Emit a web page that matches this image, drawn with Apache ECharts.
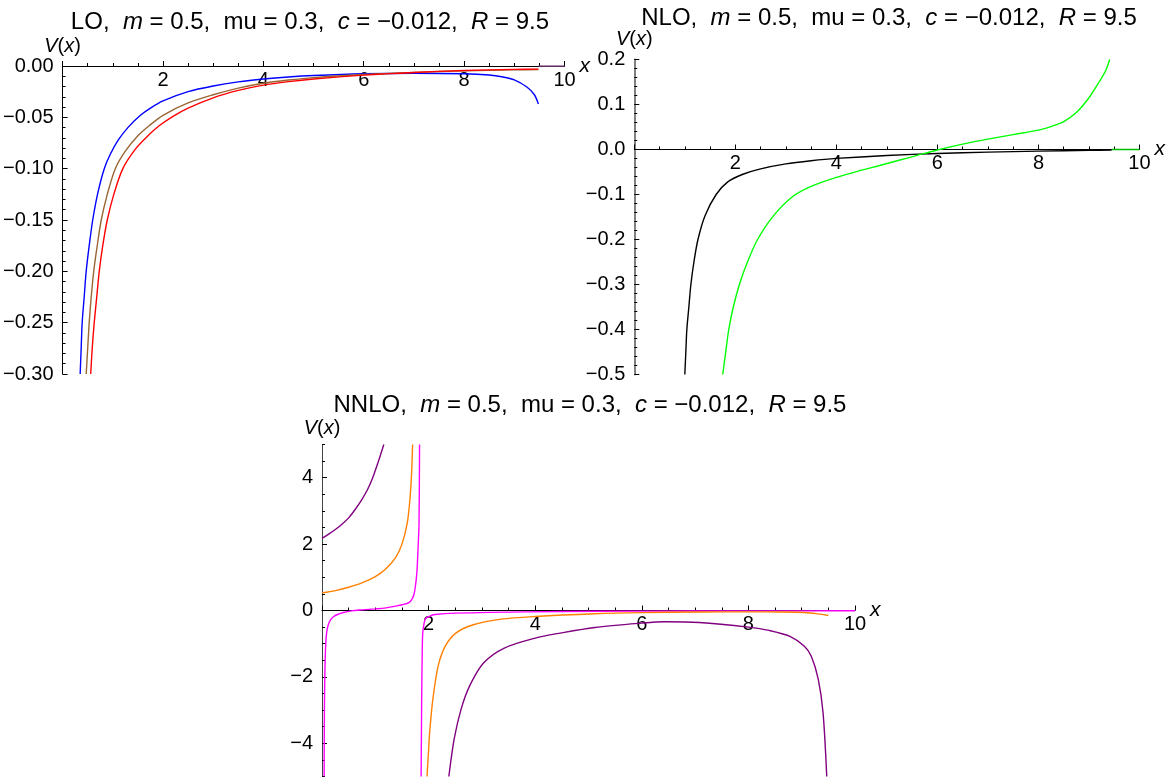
<!DOCTYPE html>
<html>
<head>
<meta charset="utf-8">
<script src="https://cdn.jsdelivr.net/npm/echarts@6/dist/echarts.min.js"></script>
<style>
html,body{margin:0;padding:0;background:#fff;}
#c{width:1166px;height:781px;}
</style>
</head>
<body>
<div id="c"></div>
<script>
// ---------- data ----------
const titles = [
  'LO,  {i|m} = 0.5,  mu = 0.3,  {i|c} = \u22120.012,  {i|R} = 9.5',
  'NLO,  {i|m} = 0.5,  mu = 0.3,  {i|c} = \u22120.012,  {i|R} = 9.5',
  'NNLO,  {i|m} = 0.5,  mu = 0.3,  {i|c} = \u22120.012,  {i|R} = 9.5'
];
const xTicks = [2, 4, 6, 8, 10];
const nnloYTicks = [-4, -2, 0, 2, 4];

// LO
const loBlue = [[0.35,-0.30],[0.37,-0.275],[0.39,-0.25],[0.43,-0.225],[0.47,-0.20],[0.53,-0.175],[0.6,-0.15],[0.7,-0.124],[0.83,-0.10],[0.95,-0.086],[1.11,-0.072],[1.3,-0.060],[1.55,-0.048],[1.75,-0.041],[2.0,-0.034],[2.5,-0.025],[3.0,-0.0195],[3.5,-0.0155],[4.0,-0.0127],[4.5,-0.0107],[5.0,-0.0093],[6.0,-0.0076],[7.0,-0.007],[8.0,-0.0075],[8.5,-0.0088],[8.75,-0.0105],[9.0,-0.0135],[9.25,-0.0205],[9.4,-0.028],[9.48,-0.037]];
const loBrown = [[0.47,-0.30],[0.5,-0.275],[0.53,-0.25],[0.57,-0.225],[0.62,-0.20],[0.69,-0.175],[0.77,-0.15],[0.89,-0.125],[1.05,-0.10],[1.25,-0.083],[1.5,-0.068],[1.73,-0.058],[2.0,-0.048],[2.5,-0.036],[3.0,-0.028],[3.5,-0.0215],[4.0,-0.0168],[4.5,-0.0137],[5.0,-0.0113],[6.0,-0.0083],[7.0,-0.0062],[8.0,-0.0047],[9.0,-0.0038],[9.48,-0.0034]];
const loRed = [[0.56,-0.30],[0.59,-0.275],[0.63,-0.25],[0.68,-0.225],[0.73,-0.20],[0.8,-0.175],[0.89,-0.15],[1.02,-0.125],[1.2,-0.10],[1.45,-0.081],[1.7,-0.068],[1.93,-0.058],[2.2,-0.049],[2.5,-0.041],[3.0,-0.031],[3.5,-0.0238],[4.0,-0.0186],[4.5,-0.0152],[5.0,-0.0126],[6.0,-0.0089],[7.0,-0.0063],[8.0,-0.0044],[9.0,-0.0033],[9.48,-0.003]];
const loTail = [[9.48,0],[10,0]];

// NLO
const nloBlack = [[1.0,-0.5],[1.02,-0.45],[1.04,-0.4],[1.08,-0.35],[1.12,-0.3],[1.18,-0.25],[1.26,-0.2],[1.4,-0.147],[1.62,-0.1],[1.85,-0.072],[2.15,-0.055],[2.5,-0.043],[3.0,-0.032],[3.5,-0.025],[4.0,-0.0198],[5.0,-0.0132],[6.0,-0.0088],[7.0,-0.0058],[8.0,-0.0036],[9.0,-0.002],[9.45,-0.0012]];
const nloGreen = [[1.75,-0.5],[1.81,-0.45],[1.87,-0.4],[1.96,-0.35],[2.08,-0.3],[2.24,-0.25],[2.44,-0.2],[2.75,-0.148],[3.13,-0.105],[3.5,-0.082],[4.0,-0.062],[4.5,-0.046],[4.84,-0.036],[5.24,-0.024],[5.6,-0.013],[6.0,-0.001],[6.5,0.012],[7.0,0.023],[7.5,0.033],[8.0,0.043],[8.25,0.051],[8.5,0.062],[8.75,0.082],[9.0,0.115],[9.2,0.15],[9.33,0.175],[9.41,0.2]];
const nloTail = [[9.45,0],[10,0]];

// NNLO
const nnloPurpleUp = [[0,2.17],[0.125,2.3],[0.25,2.44],[0.375,2.6],[0.5,2.79],[0.625,3.05],[0.75,3.35],[0.85,3.63],[0.94,3.95],[1.06,4.5],[1.16,5.0]];
const nnloOrangeUp = [[0,0.53],[0.25,0.6],[0.5,0.7],[0.75,0.83],[1.0,1.02],[1.19,1.24],[1.38,1.59],[1.5,2.0],[1.6,2.64],[1.65,3.35],[1.68,4.1],[1.70,5.0]];
const nnloMagentaA = [[0.04,-5],[0.045,-3],[0.055,-1.8],[0.07,-1.0],[0.09,-0.63],[0.12,-0.42],[0.16,-0.28],[0.22,-0.18],[0.29,-0.12],[0.4,-0.06],[0.55,-0.01],[0.75,0.02],[1.0,0.05],[1.2,0.08],[1.38,0.13],[1.55,0.19],[1.63,0.24],[1.68,0.32],[1.72,0.45],[1.75,0.7],[1.78,1.14],[1.8,1.8],[1.82,2.6],[1.83,5.0]];
const nnloMagentaB = [[1.86,-5],[1.87,-2.67],[1.88,-1.3],[1.89,-0.68],[1.92,-0.35],[1.95,-0.23],[2.05,-0.15],[2.12,-0.12],[2.5,-0.08],[3.16,-0.055],[4.5,-0.03],[6,-0.02],[8,-0.012],[10,-0.008]];
const nnloOrangeLow = [[1.97,-5],[2.0,-4.2],[2.02,-3.67],[2.08,-2.67],[2.18,-1.67],[2.31,-1.08],[2.51,-0.68],[2.84,-0.43],[3.36,-0.26],[4.0,-0.18],[5.12,-0.1],[6.0,-0.065],[7.08,-0.045],[8.0,-0.04],[8.6,-0.045],[9.05,-0.06],[9.3,-0.1],[9.5,-0.15]];
const nnloPurpleLow = [[2.38,-5],[2.48,-3.87],[2.61,-2.97],[2.77,-2.27],[3.03,-1.58],[3.42,-1.13],[4.0,-0.83],[4.47,-0.68],[5.12,-0.51],[6.0,-0.38],[6.43,-0.34],[7.08,-0.36],[8.0,-0.5],[8.39,-0.6],[8.78,-0.78],[9.05,-1.08],[9.18,-1.38],[9.31,-2.07],[9.4,-3.07],[9.47,-5]];

// ---------- chart ----------
const FONT = 'Liberation Sans, Arial, sans-serif';
const TICKF = 20;
const minus = v => (v < 0 ? '\u2212' : '');

const grids = [
  {left: 62.5, top: 66, width: 502, height: 308},
  {left: 634.3, top: 59.5, width: 508, height: 315},
  {left: 322, top: 444.5, width: 533, height: 332}
];
const yRanges = [[-0.30, 0], [-0.5, 0.2], [-5, 5]];

function titleOf(text, cx, top) {
  return {
    text: text, left: cx, top: top, textAlign: 'center', padding: 0,
    textStyle: {fontFamily: FONT, fontSize: 24, fontWeight: 'normal', color: '#000',
      rich: {i: {fontFamily: FONT, fontSize: 24, fontStyle: 'italic', color: '#000'}}}
  };
}
// x axis drawn at the y = 0 line (Mathematica "Axes" style)
function xAxisOf(g) {
  const r = yRanges[g];
  const atTop = r[1] === 0;
  const off = atTop ? 0 : -grids[g].height * (0 - r[0]) / (r[1] - r[0]);
  return {
    type: 'value', gridIndex: g, min: 0, max: 10, interval: 2,
    position: atTop ? 'top' : 'bottom', offset: off,
    name: 'x', nameLocation: 'end', nameGap: 7,
    nameTextStyle: {fontFamily: FONT, fontSize: 21, fontStyle: 'italic', color: '#000',
      verticalAlign: 'middle', padding: [6, 0, 0, 0]},
    axisLine: {show: true, onZero: false, lineStyle: {color: '#000', width: 1}},
    axisTick: {show: true, inside: !atTop, length: 5, lineStyle: {color: '#000'}},
    minorTick: {show: true, splitNumber: 4, length: 3, lineStyle: {color: '#000'}},
    splitLine: {show: false}, minorSplitLine: {show: false},
    axisLabel: {fontFamily: FONT, fontSize: TICKF, color: '#000', margin: 4, inside: atTop,
      formatter: v => (xTicks.indexOf(v) >= 0 ? String(v) : '')}
  };
}
function yNameStyle() {
  return {fontFamily: FONT, fontSize: 20, color: '#000',
    rich: {i: {fontFamily: FONT, fontSize: 20, fontStyle: 'italic', color: '#000'}}};
}
function line(data, color, xi, yi) {
  return {type: 'line', data: data, xAxisIndex: xi, yAxisIndex: yi, symbol: 'none', showSymbol: false,
    smooth: 0.3, clip: true, silent: true,
    lineStyle: {color: color, width: 1.4}};
}

const chart = echarts.init(document.getElementById('c'), null, {renderer: 'canvas'});
chart.setOption({
  animation: false,
  backgroundColor: '#fff',
  title: [titleOf(titles[0], 310, 10), titleOf(titles[1], 889, 6), titleOf(titles[2], 590, 393)],
  grid: grids.map(g => Object.assign({containLabel: false}, g)),
  xAxis: [xAxisOf(0), xAxisOf(1), xAxisOf(2)],
  yAxis: [
    { // LO
      type: 'value', gridIndex: 0, min: yRanges[0][0], max: yRanges[0][1], interval: 0.05, position: 'left',
      name: '{i|V}({i|x})', nameLocation: 'end', nameGap: 3, nameTextStyle: yNameStyle(),
      axisLine: {show: true, onZero: false, lineStyle: {color: '#000', width: 1}},
      axisTick: {show: true, inside: true, length: 5, lineStyle: {color: '#000'}},
      minorTick: {show: true, splitNumber: 5, length: 3, lineStyle: {color: '#000'}},
      splitLine: {show: false}, minorSplitLine: {show: false},
      axisLabel: {fontFamily: FONT, fontSize: TICKF, color: '#000', margin: 9,
        formatter: v => minus(v) + Math.abs(v).toFixed(2)}
    },
    { // NLO
      type: 'value', gridIndex: 1, min: yRanges[1][0], max: yRanges[1][1], interval: 0.1, position: 'left',
      name: '{i|V}({i|x})', nameLocation: 'end', nameGap: 2, nameTextStyle: yNameStyle(),
      axisLine: {show: true, onZero: false, lineStyle: {color: '#808080', width: 2}},
      axisTick: {show: true, inside: true, length: 5, lineStyle: {color: '#000'}},
      minorTick: {show: true, splitNumber: 5, length: 3, lineStyle: {color: '#000'}},
      splitLine: {show: false}, minorSplitLine: {show: false},
      axisLabel: {fontFamily: FONT, fontSize: TICKF, color: '#000', margin: 9,
        formatter: v => minus(v) + Math.abs(v).toFixed(1)}
    },
    { // NNLO main (minor ticks every 0.5, labels at even values)
      type: 'value', gridIndex: 2, min: yRanges[2][0], max: yRanges[2][1], interval: 0.5, position: 'left',
      name: '{i|V}({i|x})', nameLocation: 'end', nameGap: 6, nameTextStyle: yNameStyle(),
      axisLine: {show: true, onZero: false, lineStyle: {color: '#444', width: 1}},
      axisTick: {show: true, inside: true, length: 3, lineStyle: {color: '#000'}},
      splitLine: {show: false},
      axisLabel: {fontFamily: FONT, fontSize: TICKF, color: '#000', margin: 9, customValues: nnloYTicks,
        formatter: v => minus(v) + Math.abs(v)}
    },
    { // NNLO major ticks
      type: 'value', gridIndex: 2, min: yRanges[2][0], max: yRanges[2][1], position: 'left',
      axisLine: {show: false, onZero: false},
      axisTick: {show: true, inside: true, length: 5, customValues: nnloYTicks, lineStyle: {color: '#000'}},
      axisLabel: {show: false}, splitLine: {show: false}
    }
  ],
  series: [
    line(loBlue, '#0000ff', 0, 0),
    line(loBrown, '#996633', 0, 0),
    line(loRed, '#ff0000', 0, 0),
    line(loTail, '#7a3d7a', 0, 0),
    line(nloBlack, '#000000', 1, 1),
    line(nloGreen, '#00ff00', 1, 1),
    line(nloTail, '#00c000', 1, 1),
    line(nnloPurpleUp, '#800080', 2, 2),
    line(nnloOrangeUp, '#ff8000', 2, 2),
    line(nnloMagentaA, '#ff00ff', 2, 2),
    line(nnloMagentaB, '#ff00ff', 2, 2),
    line(nnloOrangeLow, '#ff8000', 2, 2),
    line(nnloPurpleLow, '#800080', 2, 2)
  ]
});
</script>
</body>
</html>
